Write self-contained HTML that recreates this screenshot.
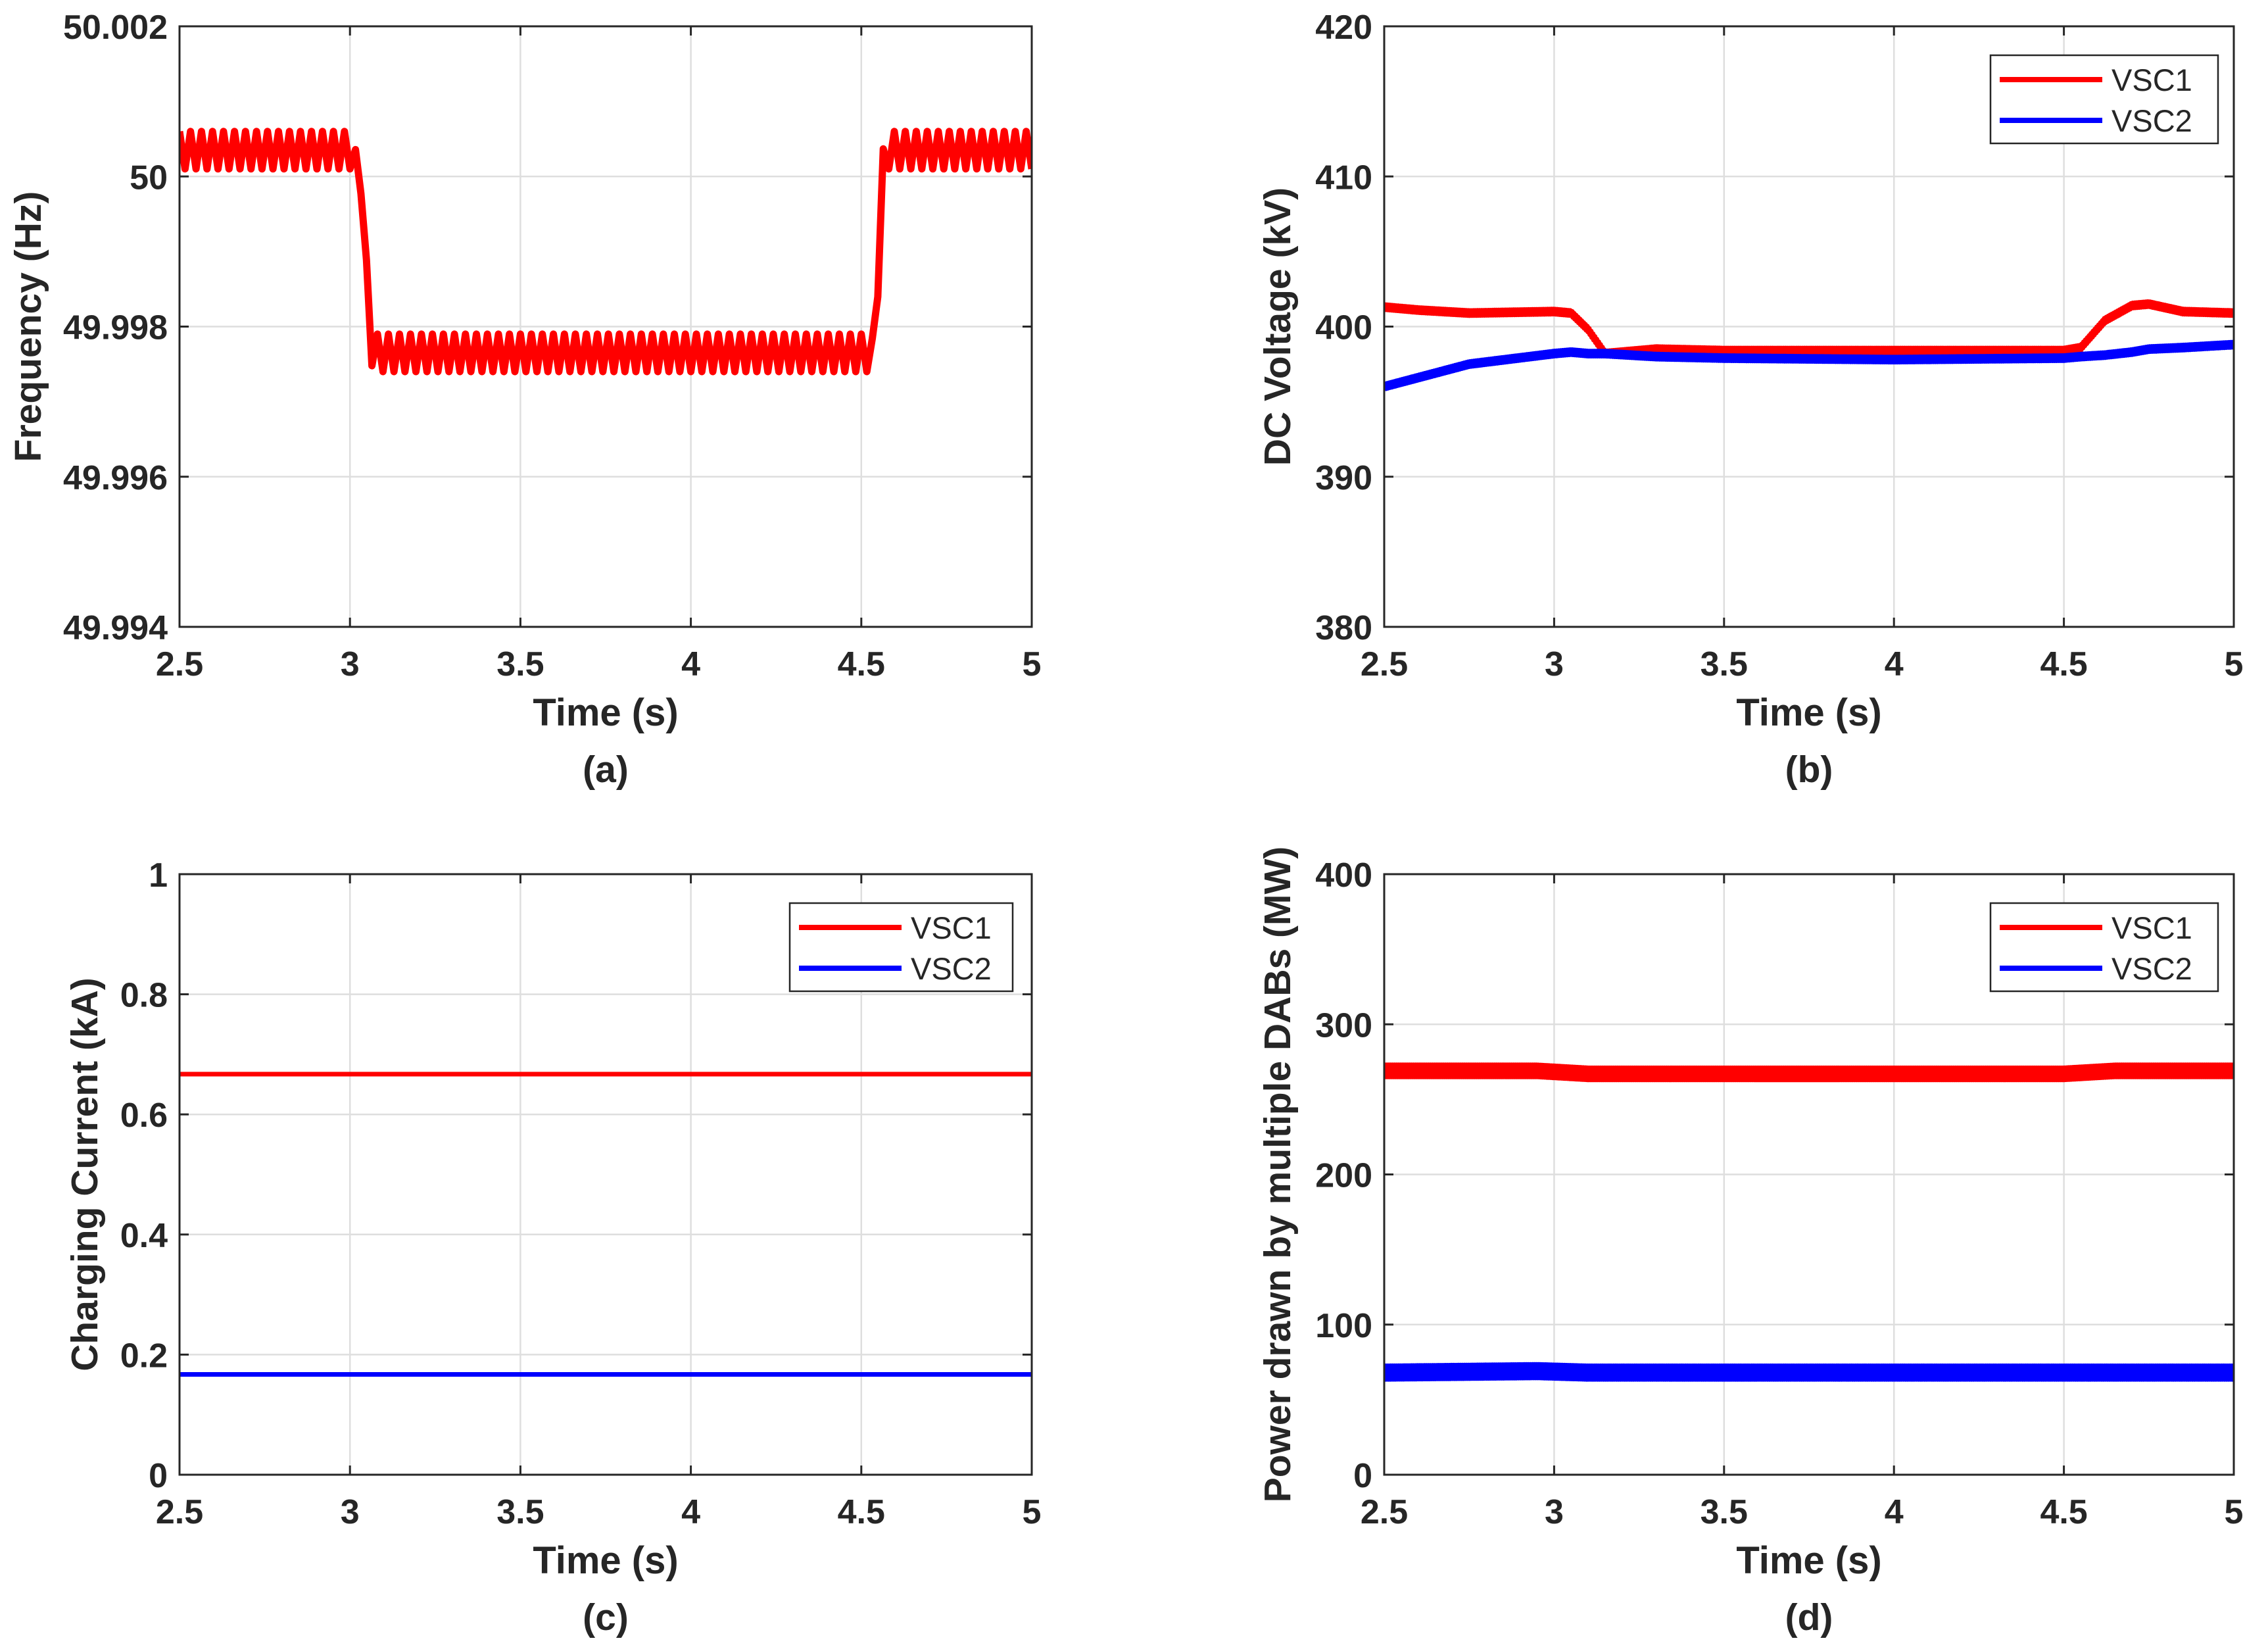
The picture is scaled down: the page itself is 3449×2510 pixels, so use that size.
<!DOCTYPE html>
<html><head><meta charset="utf-8"><style>
html,body{margin:0;padding:0;background:#fff}
svg{display:block}
text{font-family:"Liberation Sans",Arial,sans-serif;fill:#262626}
</style></head><body>
<svg id="fig" width="3449" height="2510" viewBox="0 0 3449 2510" xmlns="http://www.w3.org/2000/svg"></svg>
<script>
// ---- shared x axis ----
const xTicks = [2.5, 3, 3.5, 4, 4.5, 5];
const xTickLabels = ["2.5", "3", "3.5", "4", "4.5", "5"];
// ---- panel (a) frequency envelope ----
const aTime = [2.5, 3.0, 3.02, 3.04, 3.06, 3.08, 4.52, 4.54, 4.56, 4.58, 5.0];
const aLow  = [50.0001, 50.0001, 50.0002, 49.9995, 49.9975, 49.9974, 49.9974, 49.9976, 49.9995, 50.0001, 50.0001];
const aHigh = [50.0006, 50.0006, 50.0003, 49.9996, 49.9979, 49.9979, 49.9979, 49.9978, 50.0003, 50.0006, 50.0006];
const aRippleHz = 31;
const aYTicks = [50.002, 50, 49.998, 49.996, 49.994];
const aYTickLabels = ["50.002", "50", "49.998", "49.996", "49.994"];
// ---- panel (b) DC voltage ----
const bTime = [2.5, 2.6, 2.75, 3.0, 3.05, 3.1, 3.15, 3.3, 3.5, 4.0, 4.5, 4.55, 4.62, 4.7, 4.75, 4.85, 5.0];
const bVsc1 = [401.3, 401.1, 400.9, 401.0, 400.9, 399.8, 398.2, 398.5, 398.4, 398.4, 398.4, 398.6, 400.4, 401.4, 401.5, 401.0, 400.9];
const bVsc2 = [396.0, 396.6, 397.5, 398.2, 398.3, 398.2, 398.2, 398.0, 397.9, 397.8, 397.9, 398.0, 398.1, 398.3, 398.5, 398.6, 398.8];
const bYTicks = [420, 410, 400, 390, 380];
// ---- panel (c) charging current ----
const cTime = [2.5, 5.0];
const cVsc1 = [0.667, 0.667];
const cVsc2 = [0.167, 0.167];
const cYTicks = [1, 0.8, 0.6, 0.4, 0.2, 0];
const cYTickLabels = ["1", "0.8", "0.6", "0.4", "0.2", "0"];
// ---- panel (d) power ----
const dTime = [2.5, 2.95, 3.1, 3.5, 4.0, 4.5, 4.65, 5.0];
const dVsc1 = [269, 269, 267, 267, 267, 267, 269, 269];
const dVsc2 = [68, 69, 68, 68, 68, 68, 68, 68];
const dYTicks = [400, 300, 200, 100, 0];

const NS = "http://www.w3.org/2000/svg";
const svg = document.getElementById("fig");
function mk(tag, attrs, parent){
  const e = document.createElementNS(NS, tag);
  for (const k in attrs) e.setAttribute(k, attrs[k]);
  (parent || svg).appendChild(e);
  return e;
}
function interp(ts, vs, t){
  for (let i = 0; i < ts.length - 1; i++){
    if (t <= ts[i+1]) { const f = (t - ts[i]) / (ts[i+1] - ts[i]); return vs[i] + f * (vs[i+1] - vs[i]); }
  }
  return vs[vs.length - 1];
}
const B = "font-weight:bold";

function panel(p){
  const g = mk("g", {});
  
  
  const X = v => p.x0 + (v - 2.5) / 2.5 * (p.x1 - p.x0);
  const Y = v => p.y1 - (v - p.ymin) / (p.ymax - p.ymin) * (p.y1 - p.y0);
  xTicks.forEach(t => {
    const l = mk("line", {x1: X(t), x2: X(t), y1: p.y0, y2: p.y1, stroke: "#dedede", "stroke-width": 2.5}, g);
    
    
  });
  p.yTicks.forEach(t => {
    const l = mk("line", {x1: p.x0, x2: p.x1, y1: Y(t), y2: Y(t), stroke: "#dedede", "stroke-width": 2.5}, g);
    
    
  });
  const clip = mk("clipPath", {id: p.name + "-clip"}, g);
  mk("rect", {x: p.x0, y: p.y0, width: p.x1 - p.x0, height: p.y1 - p.y0}, clip);
  const sg = mk("g", {"clip-path": "url(#" + p.name + "-clip)"}, g);
  p.series.forEach(s => {
    let pts = [];
    if (s.ripple){
      const n = Math.round(2.5 * s.ripple.hz * 2);
      for (let i = 0; i <= n; i++){
        const t = 2.5 + i / n * 2.5;
        const v = (i % 2 === 0) ? interp(s.t, s.hi, t) : interp(s.t, s.lo, t);
        pts.push(X(t).toFixed(1) + "," + Y(v).toFixed(1));
      }
    } else if (s.noise){
      const n = 900;
      for (let i = 0; i <= n; i++){
        const t = 2.5 + i / n * 2.5;
        const v = interp(s.t, s.v, t) + ((i % 2) ? s.noise : -s.noise);
        pts.push(X(t).toFixed(1) + "," + Y(v).toFixed(1));
      }
    } else {
      s.t.forEach((t, i) => pts.push(X(t).toFixed(1) + "," + Y(s.v[i]).toFixed(1)));
    }
    const pl = mk("polyline", {points: pts.join(" "), fill: "none", stroke: s.color, "stroke-width": s.w, "stroke-linejoin": "round"}, sg);
    
    
  });
  const box = mk("rect", {x: p.x0, y: p.y0, width: p.x1 - p.x0, height: p.y1 - p.y0, fill: "none", stroke: "#262626", "stroke-width": 3}, g);
  
  
  xTicks.forEach((t, i) => {
    mk("line", {x1: X(t), x2: X(t), y1: p.y1, y2: p.y1 - 14, stroke: "#262626", "stroke-width": 3}, g);
    mk("line", {x1: X(t), x2: X(t), y1: p.y0, y2: p.y0 + 14, stroke: "#262626", "stroke-width": 3}, g);
    const tx = mk("text", {x: X(t), y: p.y1 + 74, "text-anchor": "middle", "font-size": 52, style: B}, g);
    tx.textContent = xTickLabels[i];
    
    
  });
  p.yTicks.forEach((t, i) => {
    mk("line", {x1: p.x0, x2: p.x0 + 14, y1: Y(t), y2: Y(t), stroke: "#262626", "stroke-width": 3}, g);
    mk("line", {x1: p.x1, x2: p.x1 - 14, y1: Y(t), y2: Y(t), stroke: "#262626", "stroke-width": 3}, g);
    const tx = mk("text", {x: p.x0 - 18, y: Y(t) + 19, "text-anchor": "end", "font-size": 52, style: B}, g);
    tx.textContent = p.yTickLabels[i];
    
    
  });
  const xl = mk("text", {x: (p.x0 + p.x1) / 2, y: p.y1 + 150, "text-anchor": "middle", "font-size": 58, style: B}, g);
  xl.textContent = "Time (s)";
  
  
  const cy = (p.y0 + p.y1) / 2;
  const yl = mk("text", {x: p.ylx, y: cy, "text-anchor": "middle", "font-size": 57, style: B, transform: "rotate(-90 " + p.ylx + " " + cy + ")"}, g);
  yl.textContent = p.ylabel;
  
  
  const cap = mk("text", {x: (p.x0 + p.x1) / 2, y: p.y1 + 236, "text-anchor": "middle", "font-size": 57, style: B}, g);
  cap.textContent = p.caption;
  
  
  if (p.legend){
    const L = p.legend;
    const lg = mk("g", {}, g);
    
    
    mk("rect", {x: L.x, y: L.y, width: L.w, height: 134, fill: "#fff", stroke: "#262626", "stroke-width": 2.5}, lg);
    p.series.forEach((s, i) => {
      const yy = L.y + 37 + i * 62;
      mk("line", {x1: L.x + 14, x2: L.x + 170, y1: yy, y2: yy, stroke: s.color, "stroke-width": 8}, lg);
      const tx = mk("text", {x: L.x + 184, y: yy + 17, "font-size": 47, style: "font-weight:normal"}, lg);
      tx.textContent = s.label;
      
      
    });
  }
}

panel({name: "panel-a-frequency", x0: 273, x1: 1569, y0: 40, y1: 953, ymin: 49.994, ymax: 50.002,
  yTicks: aYTicks, yTickLabels: aYTickLabels, ylabel: "Frequency (Hz)", ylx: 62, caption: "(a)",
  series: [{label: "frequency", t: aTime, lo: aLow, hi: aHigh, ripple: {hz: aRippleHz}, color: "#ff0000", w: 11}]});

panel({name: "panel-b-dc-voltage", x0: 2105, x1: 3397, y0: 40, y1: 953, ymin: 380, ymax: 420,
  yTicks: bYTicks, yTickLabels: bYTicks.map(String), ylabel: "DC Voltage (kV)", ylx: 1962, caption: "(b)",
  legend: {x: 3027, y: 84, w: 346},
  series: [{label: "VSC1", t: bTime, v: bVsc1, noise: 0.15, color: "#ff0000", w: 8},
           {label: "VSC2", t: bTime, v: bVsc2, noise: 0.15, color: "#0000ff", w: 8}]});

panel({name: "panel-c-charging-current", x0: 273, x1: 1569, y0: 1329, y1: 2242, ymin: 0, ymax: 1,
  yTicks: cYTicks, yTickLabels: cYTickLabels, ylabel: "Charging Current (kA)", ylx: 148, caption: "(c)",
  legend: {x: 1201, y: 1373, w: 339},
  series: [{label: "VSC1", t: cTime, v: cVsc1, color: "#ff0000", w: 7},
           {label: "VSC2", t: cTime, v: cVsc2, color: "#0000ff", w: 7}]});

panel({name: "panel-d-power", x0: 2105, x1: 3397, y0: 1329, y1: 2242, ymin: 0, ymax: 400,
  yTicks: dYTicks, yTickLabels: dYTicks.map(String), ylabel: "Power drawn by multiple DABs (MW)", ylx: 1962, caption: "(d)",
  legend: {x: 3027, y: 1373, w: 346},
  series: [{label: "VSC1", t: dTime, v: dVsc1, noise: 2.5, color: "#ff0000", w: 14},
           {label: "VSC2", t: dTime, v: dVsc2, noise: 3, color: "#0000ff", w: 14}]});
</script>
</body></html>
